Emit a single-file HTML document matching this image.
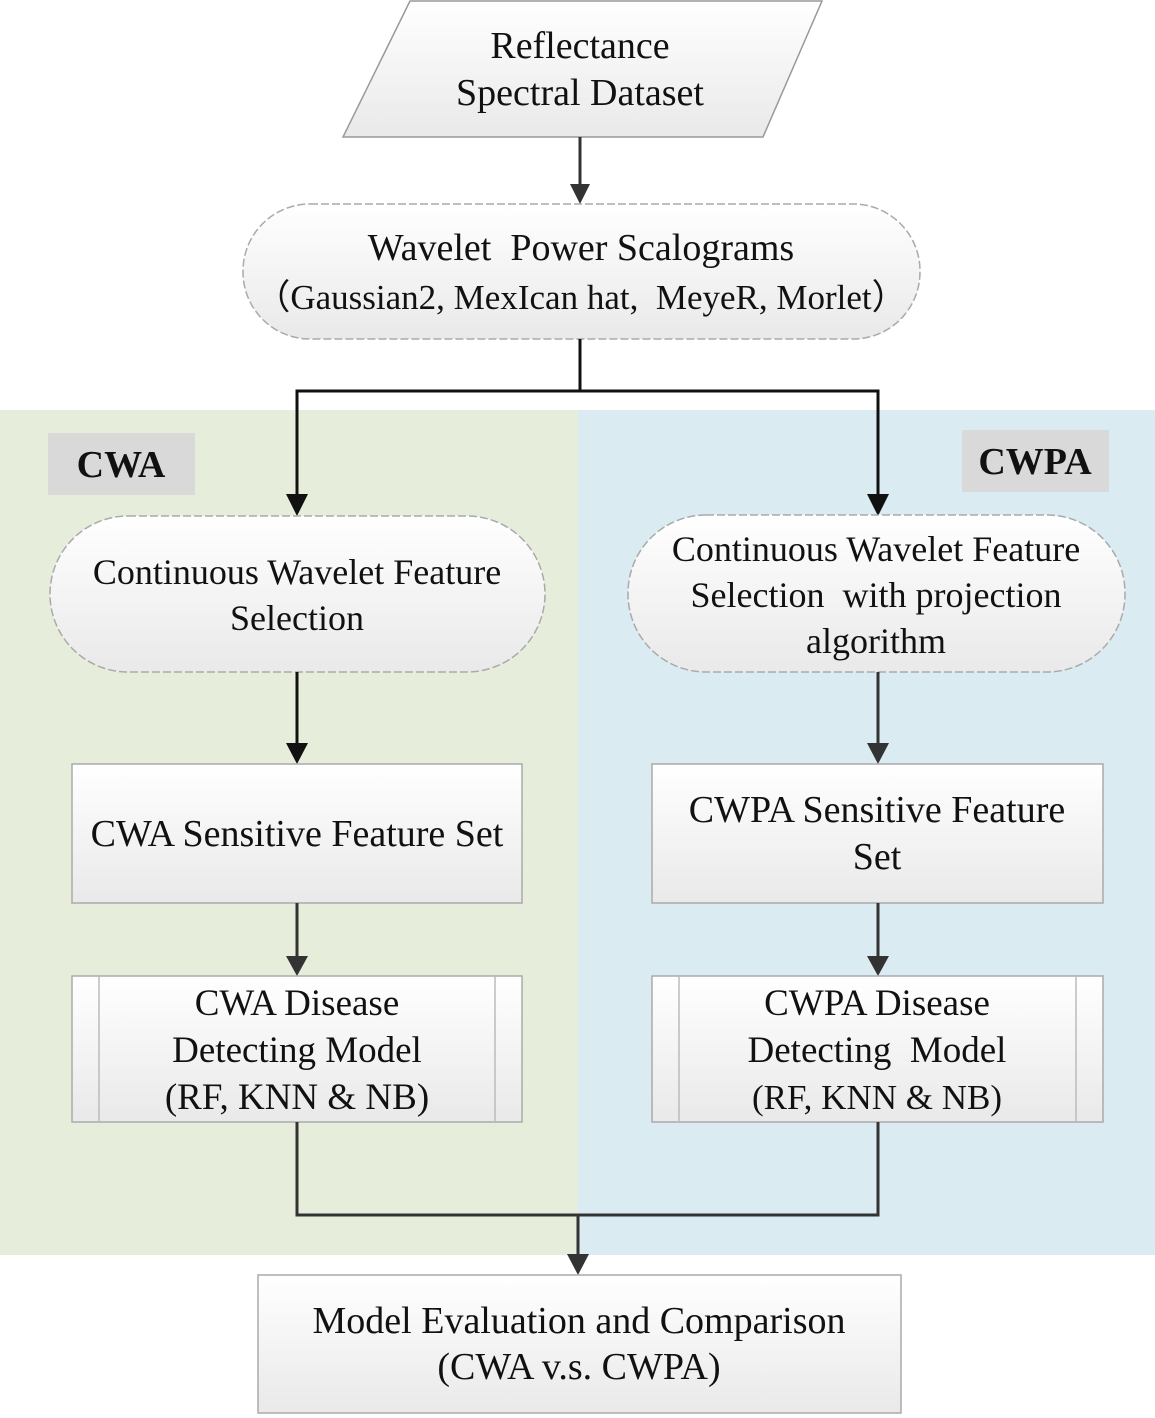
<!DOCTYPE html>
<html><head><meta charset="utf-8"><style>
html,body{margin:0;padding:0;background:#fff;}
svg{display:block;}
text{font-family:"Liberation Serif",serif;fill:#111;}
</style></head><body>
<svg width="1155" height="1418" viewBox="0 0 1155 1418" xmlns="http://www.w3.org/2000/svg">
<defs>
<linearGradient id="g" x1="0" y1="0" x2="0" y2="1">
<stop offset="0" stop-color="#ffffff"/><stop offset="1" stop-color="#e9e9ea"/>
</linearGradient>
</defs>
<rect x="0" y="410" width="578" height="845" fill="#e6eedb"/>
<rect x="578" y="410" width="577" height="845" fill="#daebf2"/>

<polygon points="410,1 822,1 763,137 343,137" fill="url(#g)" stroke="#999" stroke-width="1.5"/>
<text x="580" y="58" font-size="38" text-anchor="middle">Reflectance</text>
<text x="580" y="105" font-size="38" text-anchor="middle">Spectral Dataset</text>

<line x1="580" y1="137" x2="580" y2="188" stroke="#333" stroke-width="3"/>
<polygon points="570,184 590,184 580,204" fill="#333"/>

<rect x="243" y="204" width="677" height="135" rx="67" fill="url(#g)" stroke="#aaa" stroke-width="1.5" stroke-dasharray="8,3"/>
<text x="581" y="260" font-size="38" text-anchor="middle" xml:space="preserve">Wavelet  Power Scalograms</text>
<text x="581" y="309" font-size="35" text-anchor="middle" xml:space="preserve">（Gaussian2, MexIcan hat,  MeyeR, Morlet）</text>

<polyline points="580,339 580,391 297,391 297,498" fill="none" stroke="#111" stroke-width="3"/>
<polyline points="580,391 878,391 878,498" fill="none" stroke="#111" stroke-width="3"/>
<polygon points="286,494 308,494 297,516" fill="#111"/>
<polygon points="867,494 889,494 878,516" fill="#111"/>

<rect x="48" y="433" width="147" height="62" fill="#d9d9d9"/>
<text x="121" y="477" font-size="38" font-weight="bold" text-anchor="middle">CWA</text>
<rect x="962" y="430" width="147" height="62" fill="#d9d9d9"/>
<text x="1035" y="474" font-size="38" font-weight="bold" text-anchor="middle">CWPA</text>

<rect x="50" y="516" width="495" height="156" rx="78" fill="url(#g)" stroke="#aaa" stroke-width="1.5" stroke-dasharray="8,3"/>
<text x="297" y="584" font-size="36" text-anchor="middle">Continuous Wavelet Feature</text>
<text x="297" y="630" font-size="36" text-anchor="middle">Selection</text>

<rect x="628" y="515" width="497" height="157" rx="78" fill="url(#g)" stroke="#aaa" stroke-width="1.5" stroke-dasharray="8,3"/>
<text x="876" y="561" font-size="36" text-anchor="middle">Continuous Wavelet Feature</text>
<text x="876" y="607" font-size="36" text-anchor="middle" xml:space="preserve">Selection  with projection</text>
<text x="876" y="653" font-size="36" text-anchor="middle">algorithm</text>

<line x1="297" y1="672" x2="297" y2="748" stroke="#111" stroke-width="3"/>
<polygon points="286,743 308,743 297,764" fill="#111"/>
<line x1="878" y1="672" x2="878" y2="748" stroke="#333" stroke-width="3"/>
<polygon points="867,743 889,743 878,764" fill="#333"/>

<rect x="72" y="764" width="450" height="139" fill="url(#g)" stroke="#aaa" stroke-width="1.5"/>
<text x="297" y="846" font-size="38" text-anchor="middle">CWA Sensitive Feature Set</text>
<rect x="652" y="764" width="451" height="139" fill="url(#g)" stroke="#aaa" stroke-width="1.5"/>
<text x="877" y="822" font-size="38" text-anchor="middle">CWPA Sensitive Feature</text>
<text x="877" y="869" font-size="38" text-anchor="middle">Set</text>

<line x1="297" y1="903" x2="297" y2="960" stroke="#333" stroke-width="3"/>
<polygon points="286,956 308,956 297,976" fill="#333"/>
<line x1="878" y1="903" x2="878" y2="960" stroke="#333" stroke-width="3"/>
<polygon points="867,956 889,956 878,976" fill="#333"/>

<rect x="72" y="976" width="450" height="146" fill="url(#g)" stroke="#aaa" stroke-width="1.5"/>
<line x1="99" y1="976" x2="99" y2="1122" stroke="#bbb" stroke-width="1.5"/>
<line x1="495" y1="976" x2="495" y2="1122" stroke="#bbb" stroke-width="1.5"/>
<text x="297" y="1015" font-size="37" text-anchor="middle">CWA Disease</text>
<text x="297" y="1062" font-size="37" text-anchor="middle">Detecting Model</text>
<text x="297" y="1109" font-size="37" text-anchor="middle">(RF, KNN &amp; NB)</text>

<rect x="652" y="976" width="451" height="146" fill="url(#g)" stroke="#aaa" stroke-width="1.5"/>
<line x1="679" y1="976" x2="679" y2="1122" stroke="#bbb" stroke-width="1.5"/>
<line x1="1076" y1="976" x2="1076" y2="1122" stroke="#bbb" stroke-width="1.5"/>
<text x="877" y="1015" font-size="37" text-anchor="middle">CWPA Disease</text>
<text x="877" y="1062" font-size="37" text-anchor="middle" xml:space="preserve">Detecting  Model</text>
<text x="877" y="1109" font-size="35" text-anchor="middle">(RF, KNN &amp; NB)</text>

<polyline points="297,1122 297,1215 878,1215 878,1122" fill="none" stroke="#333" stroke-width="3"/>
<line x1="578" y1="1215" x2="578" y2="1258" stroke="#333" stroke-width="3"/>
<polygon points="567,1254 589,1254 578,1275" fill="#333"/>

<rect x="258" y="1275" width="643" height="138" fill="url(#g)" stroke="#aaa" stroke-width="1.5"/>
<text x="579" y="1333" font-size="38" text-anchor="middle">Model Evaluation and Comparison</text>
<text x="579" y="1379" font-size="38" text-anchor="middle">(CWA v.s. CWPA)</text>
</svg>
</body></html>
